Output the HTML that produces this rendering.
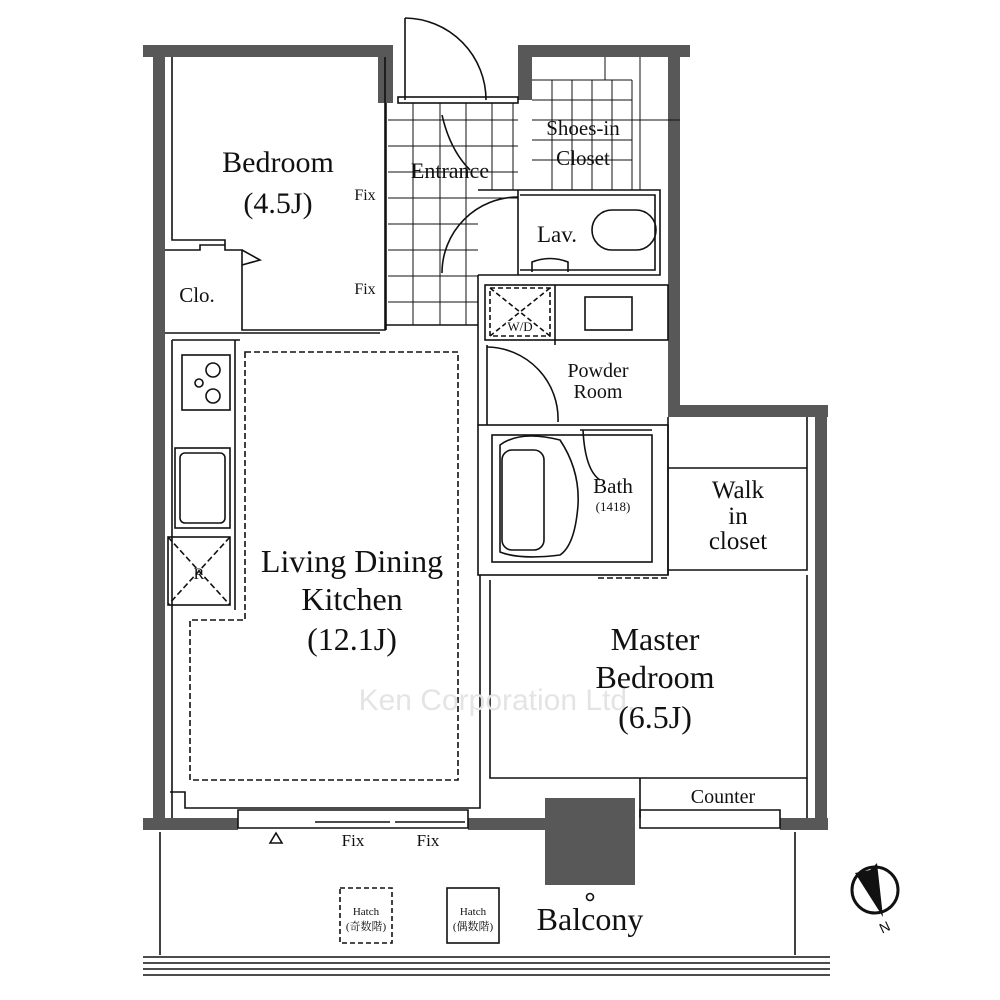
<!DOCTYPE html>
<html><head><meta charset="utf-8"><style>
html,body{margin:0;padding:0;background:#fff;}
svg{display:block;}
text{font-family:"Liberation Serif","Noto Serif CJK SC",serif;fill:#111;text-anchor:middle;}
</style></head><body>
<svg width="1000" height="1000" viewBox="0 0 1000 1000" xmlns="http://www.w3.org/2000/svg">
<g fill="#585858">
  <rect x="143" y="45" width="250" height="12"/>
  <rect x="378" y="45" width="15" height="58"/>
  <rect x="153" y="45" width="12" height="785"/>
  <rect x="518" y="45" width="172" height="12"/>
  <rect x="518" y="45" width="14" height="55"/>
  <rect x="668" y="45" width="12" height="372"/>
  <rect x="668" y="405" width="160" height="12"/>
  <rect x="815" y="405" width="12" height="425"/>
  <rect x="143" y="818" width="95" height="12"/>
  <rect x="468" y="818" width="80" height="12"/>
  <rect x="545" y="798" width="90" height="87"/>
  <rect x="780" y="818" width="48" height="12"/>
</g>
<g fill="none" stroke="#111" stroke-width="1.6">
  <line x1="405" y1="18" x2="405" y2="100"/>
  <path d="M405 18 A82 82 0 0 1 486 100"/>
  <rect x="398" y="97" width="120" height="6"/>
  <path d="M172 57 V240 H225 V250 H242 V330 H385 V57"/>
  <path d="M242 250 L260 260 L242 265"/>
  <path d="M165 250 H200 V245 H225"/>
  <line x1="165" y1="333" x2="380" y2="333"/>
  <line x1="386" y1="103" x2="386" y2="330"/>
  <g stroke-width="1">
    <path d="M388 120 H518 M388 146 H518 M388 172 H518 M388 198 H518 M388 224 H478 M388 250 H478 M388 276 H478 M388 302 H478"/>
    <path d="M413 103 V325 M440 103 V325 M466 103 V325 M492 103 V190 M513 103 V190"/>
    <path d="M532 80 H632 M532 100 H632 M532 120 H680 M532 140 H632 M532 160 H632"/>
    <path d="M552 80 V190 M572 80 V190 M592 80 V190 M612 80 V190 M632 80 V190 M605 57 V80 M640 57 V190"/>
  </g>
  <path d="M442 115 Q450 150 470 170"/>
  <path d="M478 190 H660 V275 H478"/>
  <path d="M518 190 V275"/>
  <path d="M520 195 H655 V270 H520"/>
  <path d="M518 197 A76 76 0 0 0 442 273"/>
  <rect x="592" y="210" width="64" height="40" rx="20"/>
  <path d="M532 272 V262 Q550 255 568 262 V272"/>
  <line x1="386" y1="325" x2="478" y2="325"/>
  <line x1="478" y1="275" x2="478" y2="425"/>
  <rect x="485" y="285" width="183" height="55"/>
  <rect x="490" y="288" width="60" height="48" stroke-dasharray="5 3"/>
  <path d="M490 288 L550 336 M550 288 L490 336" stroke-dasharray="5 3"/>
  <rect x="585" y="297" width="47" height="33"/>
  <line x1="555" y1="285" x2="555" y2="345"/>
  <path d="M487 347 A72 72 0 0 1 558 422"/>
  <line x1="487" y1="345" x2="487" y2="425"/>
  <rect x="478" y="425" width="190" height="150"/>
  <rect x="492" y="435" width="160" height="127"/>
  <path d="M500 445 Q520 430 560 440 Q580 470 578 505 Q575 545 560 555 Q520 560 500 552 Z"/>
  <rect x="502" y="450" width="42" height="100" rx="10"/>
  <path d="M580 430 H652 M583 430 Q585 470 600 480"/>
  <path d="M668 417 V575 M668 468 H807 M668 570 H807 V417"/>
  <path d="M490 580 V778 H807 V575"/>
  <path d="M640 778 V818 M807 778 V818"/>
  <path d="M598 578 H668" stroke-dasharray="6 3"/>
  <path d="M172 340 V818 M172 340 H240"/>
  <rect x="182" y="355" width="48" height="55"/>
  <circle cx="213" cy="370" r="7"/><circle cx="213" cy="396" r="7"/><circle cx="199" cy="383" r="4"/>
  <rect x="175" y="448" width="55" height="80"/>
  <rect x="180" y="453" width="45" height="70" rx="5"/>
  <rect x="168" y="537" width="62" height="68"/>
  <path d="M168 537 L230 605 M230 537 L168 605" stroke-dasharray="6 3"/>
  <line x1="235" y1="340" x2="235" y2="610"/>
  <path d="M245 352 H458 V780 H190 V620 H245 Z" stroke-dasharray="6 3"/>
  <path d="M170 792 H185 V808 H480 V575"/>
  <path d="M238 810 H468 V828 H238 Z M315 822 H390 M395 822 H465"/>
  <path d="M640 810 H780 V828 H640 Z"/>
  <path d="M160 832 V955 M795 832 V955"/>
  <path d="M143 957 H830 M143 963 H830 M143 969 H830 M143 975 H830"/>
  <path d="M270 843 L276 833 L282 843 Z"/>
  <rect x="340" y="888" width="52" height="55" stroke-dasharray="5 3"/>
  <rect x="447" y="888" width="52" height="55"/>
  <circle cx="590" cy="897" r="3.5"/>
  <circle cx="875" cy="890" r="23" stroke-width="3"/>
</g>
<path d="M855 873 L870 870 L877 863 L883 917 Z" fill="#111"/>
<text x="278" y="172" font-size="30">Bedroom</text>
<text x="278" y="213" font-size="30">(4.5J)</text>
<text x="365" y="200" font-size="16">Fix</text>
<text x="365" y="294" font-size="16">Fix</text>
<text x="197" y="302" font-size="21">Clo.</text>
<text x="450" y="178" font-size="22">Entrance</text>
<text x="583" y="135" font-size="21">Shoes-in</text>
<text x="583" y="165" font-size="21">Closet</text>
<text x="557" y="242" font-size="23">Lav.</text>
<text x="520" y="331" font-size="13" style="paint-order:stroke;stroke:#fff;stroke-width:3px">W/D</text>
<text x="598" y="377" font-size="20">Powder</text>
<text x="598" y="398" font-size="20">Room</text>
<text x="613" y="493" font-size="21">Bath</text>
<text x="613" y="511" font-size="13">(1418)</text>
<text x="738" y="498" font-size="25">Walk</text>
<text x="738" y="524" font-size="25">in</text>
<text x="738" y="549" font-size="25">closet</text>
<text x="199" y="579" font-size="16">R</text>
<text x="352" y="572" font-size="32">Living Dining</text>
<text x="352" y="610" font-size="32">Kitchen</text>
<text x="352" y="650" font-size="32">(12.1J)</text>
<text x="497" y="710" font-size="30" style="font-family:'Liberation Sans',sans-serif;fill:#e4e4e4">Ken Corporation Ltd.</text>
<text x="655" y="650" font-size="32">Master</text>
<text x="655" y="688" font-size="32">Bedroom</text>
<text x="655" y="728" font-size="32">(6.5J)</text>
<text x="723" y="803" font-size="20">Counter</text>
<text x="353" y="846" font-size="17">Fix</text>
<text x="428" y="846" font-size="17">Fix</text>
<text x="590" y="930" font-size="32">Balcony</text>
<text x="366" y="915" font-size="11">Hatch</text>
<text x="366" y="930" font-size="11">(奇数階)</text>
<text x="473" y="915" font-size="11">Hatch</text>
<text x="473" y="930" font-size="11">(偶数階)</text>
<text x="885" y="932" font-size="14" transform="rotate(-25 885 928)" style="font-family:'Liberation Sans',sans-serif">N</text>
</svg>
</body></html>
